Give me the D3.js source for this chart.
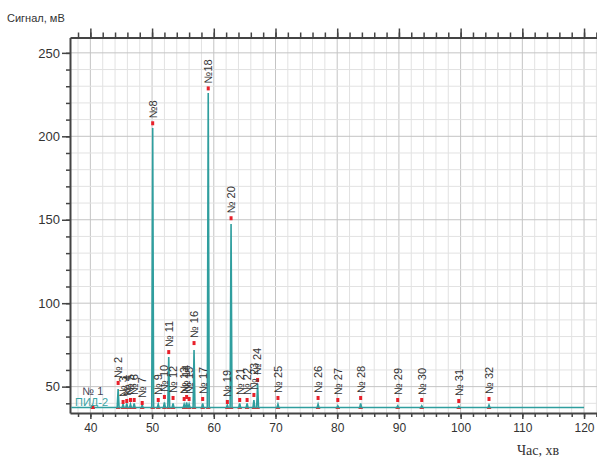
<!DOCTYPE html>
<html>
<head>
<meta charset="utf-8">
<script src="https://cdn.jsdelivr.net/npm/d3@7"></script>
<style>
  body { margin: 0; background: #fff; }
  svg { display: block; font-family: "Liberation Sans", Arial, sans-serif; }
</style>
</head>
<body>
<svg id="chart" width="597" height="459"></svg>
<script>
// Peak labels, retention times (min), trace heights and marker heights (mV)
const peakNames = ["№ 1", "№ 2", "№ 3", "№ 4", "№ 5", "№ 6", "№ 7", "№8", "№ 9", "№ 10",
                   "№ 11", "№ 12", "№ 13", "№ 14", "№ 15", "№ 16", "№ 17", "№18", "№ 19", "№ 20",
                   "№ 21", "№ 22", "№ 23", "№ 24", "№ 25", "№ 26", "№ 27", "№ 28", "№ 29", "№ 30",
                   "№ 31", "№ 32"];
const peakTimes = [40.4, 44.5, 45.3, 45.9, 46.5, 47.1, 48.4, 50.1, 51.0, 52.0,
                   52.7, 53.4, 55.2, 55.6, 56.0, 56.8, 58.2, 59.1, 62.2, 62.8,
                   64.2, 65.4, 66.5, 67.1, 70.4, 76.9, 80.1, 83.8, 89.8, 93.7,
                   99.7, 104.6];
const peakHeights = [38.5, 48.6, 39.5, 40, 39.5, 40, 39, 205, 39.5, 40.5,
                     67.8, 40, 39.5, 40.5, 39.5, 72, 40, 226, 39, 147.5,
                     40, 40, 42, 51.6, 39.5, 39.5, 38.5, 40, 38.5, 38.5,
                     38.2, 39];
const markerHeights = [37.8, 52.2, 40.8, 41.4, 42.0, 42.0, 40.2, 207.8, 42.0, 43.8,
                       70.7, 43.2, 42.6, 43.8, 42.6, 76.1, 42.6, 228.7, 40.8, 150.9,
                       42.0, 42.0, 45.0, 54.0, 43.2, 43.2, 42.0, 43.2, 42.0, 42.0,
                       41.4, 42.6];
const baseline = 37.5;
const traceStart = 36.9;
const traceEnd = 120;
const xTickValues = [40, 50, 60, 70, 80, 90, 100, 110, 120];
const yTickValues = [50, 100, 150, 200, 250];
const detectorName = "ПИД-2";

const svg = d3.select("#chart");

const plotLeft = 70, plotRight = 597, plotTop = 37.5, plotBottom = 413;

const x = d3.scaleLinear().domain([36.7, 122.1]).range([plotLeft, plotRight]);
const y = d3.scaleLinear().domain([34.2, 259.2]).range([plotBottom, plotTop]);

const xMinor = d3.range(38, 122.1, 2);
const yMinor = d3.range(40, 259.2, 10);

// grid
const grid = svg.append("g");
grid.selectAll(".vx")
    .data(xMinor)
    .enter().append("line")
    .attr("x1", d => x(d)).attr("x2", d => x(d))
    .attr("y1", plotTop).attr("y2", plotBottom)
    .attr("stroke", d => d % 10 === 0 ? "#c4c4c4" : "#e2e2e2")
    .attr("stroke-width", 1);
grid.selectAll(".hy")
    .data(yMinor)
    .enter().append("line")
    .attr("x1", plotLeft).attr("x2", plotRight)
    .attr("y1", d => y(d)).attr("y2", d => y(d))
    .attr("stroke", d => d % 50 === 0 ? "#c4c4c4" : "#e2e2e2")
    .attr("stroke-width", 1);

// axes
function styleAxis(g) {
    g.select(".domain").attr("stroke", "#444").attr("stroke-width", 2);
    g.selectAll(".tick line").attr("stroke", "#444").attr("stroke-width", 1.5);
    g.selectAll(".tick text").attr("fill", "#333").attr("font-family", "Liberation Sans, Arial, sans-serif");
}

svg.append("g")
    .attr("transform", `translate(0,${plotTop})`)
    .call(d3.axisTop(x).tickValues(xMinor).tickSize(5).tickSizeOuter(0).tickFormat(""))
    .call(styleAxis);
svg.append("g")
    .attr("transform", `translate(0,${plotTop})`)
    .call(d3.axisTop(x).tickValues(xTickValues).tickSize(9).tickSizeOuter(0).tickFormat(""))
    .call(g => g.select(".domain").remove())
    .call(styleAxis);

svg.append("g")
    .attr("transform", `translate(0,${plotBottom})`)
    .call(d3.axisBottom(x).tickValues(xMinor).tickSize(4).tickSizeOuter(0).tickFormat(""))
    .call(styleAxis);
svg.append("g")
    .attr("transform", `translate(0,${plotBottom})`)
    .call(d3.axisBottom(x).tickValues(xTickValues).tickSize(6).tickPadding(4).tickSizeOuter(0))
    .call(g => g.select(".domain").remove())
    .call(styleAxis)
    .call(g => g.selectAll(".tick text").attr("font-size", 12));

svg.append("g")
    .attr("transform", `translate(${plotLeft},0)`)
    .call(d3.axisLeft(y).tickValues(yMinor).tickSize(4).tickSizeOuter(0).tickFormat(""))
    .call(styleAxis);
svg.append("g")
    .attr("transform", `translate(${plotLeft},0)`)
    .call(d3.axisLeft(y).tickValues(yTickValues).tickSize(8).tickPadding(2).tickSizeOuter(0))
    .call(g => g.select(".domain").remove())
    .call(styleAxis)
    .call(g => g.selectAll(".tick text").attr("font-size", 13));

// trace
const peaks = peakTimes.map((t, i) => ({
    name: peakNames[i], t: t, h: peakHeights[i], m: markerHeights[i]
}));
const halfWidth = 0.15;
const tracePoints = [[traceStart, baseline]];
peaks.forEach(p => {
    tracePoints.push([p.t - halfWidth, baseline], [p.t, p.h], [p.t + halfWidth, baseline]);
});
tracePoints.push([traceEnd, baseline]);

// red baseline segments under peaks
svg.append("g").selectAll("line")
    .data(peaks)
    .enter().append("line")
    .attr("x1", d => x(d.t - 0.35)).attr("x2", d => x(d.t + 0.35))
    .attr("y1", y(baseline) + 0.5).attr("y2", y(baseline) + 0.5)
    .attr("stroke", "#e03030")
    .attr("stroke-width", 2);

svg.append("path")
    .datum(tracePoints)
    .attr("fill", "none")
    .attr("stroke", "#2f9e9e")
    .attr("stroke-width", 1.6)
    .attr("d", d3.line().x(d => x(d[0])).y(d => y(d[1])));

// peak markers
svg.append("g").selectAll("rect")
    .data(peaks)
    .enter().append("rect")
    .attr("x", d => x(d.t) - 1.5)
    .attr("y", d => y(d.m) - 2)
    .attr("width", 3)
    .attr("height", 4)
    .attr("fill", "#e8202a");

// peak labels
const labels = svg.append("g")
    .attr("font-size", 11)
    .attr("fill", "#333");
labels.selectAll("text")
    .data(peaks.slice(1))
    .enter().append("text")
    .attr("transform", d => `translate(${x(d.t)},${y(d.m) - 5}) rotate(-90)`)
    .attr("dy", "0.35em")
    .attr("text-anchor", "start")
    .text(d => d.name);
labels.append("text")
    .attr("x", x(peaks[0].t))
    .attr("y", y(peaks[0].m) - 12)
    .attr("text-anchor", "middle")
    .attr("fill", "#445")
    .text(peaks[0].name);

// detector name
svg.append("text")
    .attr("x", plotLeft + 5)
    .attr("y", y(baseline) - 1)
    .attr("font-size", 11)
    .attr("fill", "#3aa5a5")
    .text(detectorName);

// axis titles
svg.append("text")
    .attr("x", 7)
    .attr("y", 22)
    .attr("font-size", 11)
    .attr("fill", "#333")
    .text("Сигнал, мВ");

svg.append("text")
    .attr("x", 538)
    .attr("y", 455)
    .attr("text-anchor", "middle")
    .attr("font-size", 14)
    .attr("font-family", "Liberation Serif, serif")
    .attr("fill", "#333")
    .text("Час, хв");
</script>
</body>
</html>
